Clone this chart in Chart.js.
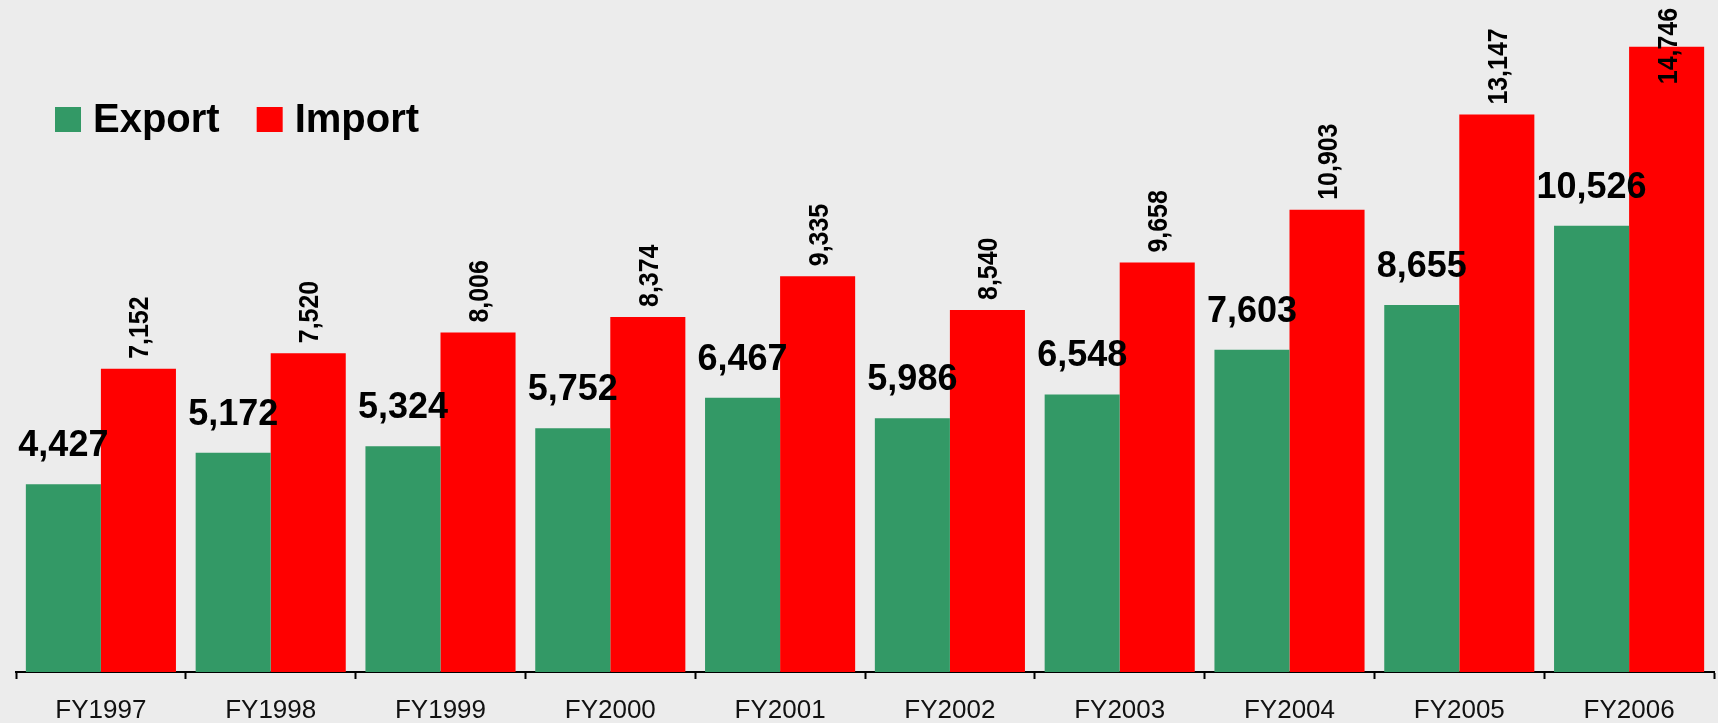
<!DOCTYPE html>
<html>
<head>
<meta charset="utf-8">
<script src="https://cdn.jsdelivr.net/npm/chart.js@4/dist/chart.umd.min.js"></script>
<style>
  html, body { margin: 0; padding: 0; background: #ececec; }
  #wrap { width: 1718px; height: 723px; position: relative; }
</style>
</head>
<body>
<div id="wrap"><canvas id="myChart"></canvas></div>
<script>
// data
const years = ['FY1997', 'FY1998', 'FY1999', 'FY2000', 'FY2001', 'FY2002', 'FY2003', 'FY2004', 'FY2005', 'FY2006'];
const exportVals = [4427, 5172, 5324, 5752, 6467, 5986, 6548, 7603, 8655, 10526];
const importVals = [7152, 7520, 8006, 8374, 9335, 8540, 9658, 10903, 13147, 14746];

const FONT = 'Arial, "Liberation Sans", sans-serif';
const fmt = v => v.toLocaleString('en-US');

// value labels above bars
const valueLabels = {
  id: 'valueLabels',
  afterDatasetsDraw(chart) {
    const ctx = chart.ctx;
    ctx.save();
    ctx.fillStyle = '#000';
    // export: big horizontal numbers
    chart.getDatasetMeta(0).data.forEach((bar, i) => {
      ctx.font = 'bold 36px ' + FONT;
      ctx.textAlign = 'center';
      ctx.textBaseline = 'alphabetic';
      ctx.fillText(fmt(exportVals[i]), bar.x, bar.y - 28);
    });
    // import: rotated numbers
    chart.getDatasetMeta(1).data.forEach((bar, i) => {
      const txt = fmt(importVals[i]);
      ctx.font = 'bold 28px ' + FONT;
      const len = ctx.measureText(txt).width * 0.89;
      const y0 = Math.max(bar.y - 10, 8 + len);
      ctx.save();
      ctx.translate(bar.x, y0);
      ctx.rotate(-Math.PI / 2);
      ctx.scale(0.89, 1);
      ctx.textAlign = 'left';
      ctx.textBaseline = 'alphabetic';
      ctx.fillText(txt, 0, 10);
      ctx.restore();
    });
    ctx.restore();
  }
};

// legend top left
const legendBox = {
  id: 'legendBox',
  afterDraw(chart) {
    const ctx = chart.ctx;
    ctx.save();
    ctx.font = 'bold 40px ' + FONT;
    ctx.textBaseline = 'alphabetic';
    let x = 55;
    chart.data.datasets.forEach(ds => {
      ctx.fillStyle = ds.backgroundColor;
      ctx.fillRect(x, 107, 26, 25);
      ctx.fillStyle = '#000';
      ctx.fillText(ds.label, x + 38, 132);
      x += 38 + ctx.measureText(ds.label).width + 37;
    });
    ctx.restore();
  }
};

const ctx1 = document.getElementById('myChart').getContext('2d');
const graph = new Chart(ctx1, {
  type: 'bar',
  data: {
    labels: years,
    datasets: [{
      label: 'Export',
      data: exportVals,
      backgroundColor: '#339966'
    }, {
      label: 'Import',
      data: importVals,
      backgroundColor: '#ff0000'
    }]
  },
  options: {
    responsive: true,
    maintainAspectRatio: false,
    animation: false,
    layout: { padding: { left: 16, right: 4, top: 0, bottom: 0 } },
    plugins: {
      legend: { display: false },
      tooltip: { enabled: false }
    },
    datasets: {
      bar: { categoryPercentage: 0.884, barPercentage: 1.0 }
    },
    scales: {
      x: {
        grid: {
          offset: true,
          drawOnChartArea: false,
          drawTicks: true,
          tickLength: 7,
          tickWidth: 2,
          tickColor: '#000'
        },
        border: { display: true, color: '#000', width: 2 },
        ticks: {
          color: '#111',
          font: { family: FONT, size: 26 },
          padding: 16,
          maxRotation: 0,
          autoSkip: false
        },
        afterFit(scale) { scale.height = 51; }
      },
      y: {
        display: false,
        min: 0,
        max: 15850
      }
    }
  },
  plugins: [valueLabels, legendBox]
});
</script>
</body>
</html>
